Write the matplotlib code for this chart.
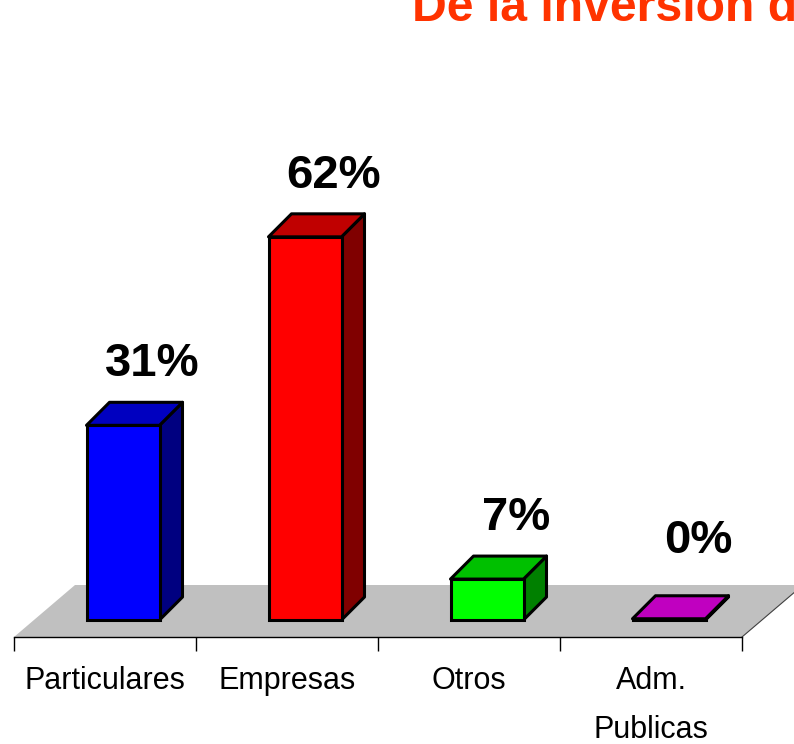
import numpy as np
import matplotlib.pyplot as plt
from matplotlib.patches import Polygon

categories = ['Particulares', 'Empresas', 'Otros', 'Adm.\nPublicas']
values = [31.4, 61.8, 6.6, 0.2]
front_colors = ['#0000FF', '#FF0000', '#00FF00', '#C000C0']
top_colors = ['#0000C0', '#C00000', '#00C000', '#C000C0']
side_colors = ['#000080', '#800000', '#008000', '#800080']
title = 'De la inversión de las empresas'

narrow = ['Liberation Sans Narrow', 'Liberation Sans', 'DejaVu Sans']

fig = plt.figure(figsize=(7.94, 7.44), dpi=100)
W, H = 794, 744
# axes: x from 14 to 742 px, y=0 at 637 px, 6.2 px per percent
ax_top = 100
ax = fig.add_axes([14 / W, (H - 637) / H, 728 / W, (637 - ax_top) / H])
ppu = 6.2
ax.set_xlim(-0.5, len(categories) - 0.5)
ax.set_ylim(0, (637 - ax_top) / ppu)
cat_px = 728 / len(categories)

# depth offsets (px -> data units)
base_dx, base_dy = 18 / cat_px, 17 / ppu
bar_dx, bar_dy = 23 / cat_px, 23 / ppu
floor_dx, floor_dy = 61 / cat_px, 52 / ppu
bar_w = 73 / cat_px

# floor
n = len(categories)
floor = Polygon([(-0.5, 0), (n - 0.5, 0), (n - 0.5 + floor_dx, floor_dy),
                 (-0.5 + floor_dx, floor_dy)], closed=True,
                facecolor='#C0C0C0', edgecolor='none', clip_on=False, zorder=1)
ax.add_patch(floor)
ax.plot([n - 0.5, n - 0.5 + floor_dx], [0, floor_dy], color='#404040', lw=0.8,
        clip_on=False, zorder=1.5)

x = np.arange(n)
lw = 2.2
for i, v in enumerate(values):
    x0 = x[i] - bar_w / 2 + base_dx
    x1 = x0 + bar_w
    y0 = base_dy
    y1 = y0 + v
    # front face
    ax.bar(x0, v, width=bar_w, bottom=y0, align='edge', color=front_colors[i],
           edgecolor='black', linewidth=lw, zorder=3, clip_on=False)
    # side face
    side = Polygon([(x1, y0), (x1 + bar_dx, y0 + bar_dy), (x1 + bar_dx, y1 + bar_dy), (x1, y1)],
                   closed=True, facecolor=side_colors[i], edgecolor='black', lw=lw,
                   joinstyle='round', zorder=2.5, clip_on=False)
    ax.add_patch(side)
    # top face
    top = Polygon([(x0, y1), (x1, y1), (x1 + bar_dx, y1 + bar_dy), (x0 + bar_dx, y1 + bar_dy)],
                  closed=True, facecolor=top_colors[i], edgecolor='black', lw=lw,
                  joinstyle='round', zorder=3.5, clip_on=False)
    ax.add_patch(top)
    # value label
    ly = y0 + max(v, 2.9) + bar_dy + 16 / ppu
    ax.text(x[i] + base_dx + 29 / cat_px, ly, '%.0f%%' % v, ha='center', va='bottom',
            fontsize=34, fontweight='bold', family=narrow, zorder=5)

# axis styling
for s in ['top', 'right', 'left']:
    ax.spines[s].set_visible(False)
ax.spines['bottom'].set_linewidth(1.0)
ax.spines['bottom'].set_zorder(4)
ax.set_yticks([])
ax.set_xticks(np.arange(n + 1) - 0.5)
ax.set_xticklabels([])
ax.tick_params(axis='x', which='major', length=10, width=1.0, color='black', direction='out')
ax.set_xticks(x, minor=True)
ax.set_xticklabels(categories, minor=True, fontsize=22, family=narrow, linespacing=1.8)
ax.tick_params(axis='x', which='minor', length=0, pad=21)
ax.patch.set_visible(False)

fig.text(412 / W, (H - 21) / H, title, ha='left', va='baseline', fontsize=34.7,
         fontweight='bold', color='#FF3300', family=['Liberation Sans', 'DejaVu Sans'])

fig.savefig('out.png', dpi=100)
